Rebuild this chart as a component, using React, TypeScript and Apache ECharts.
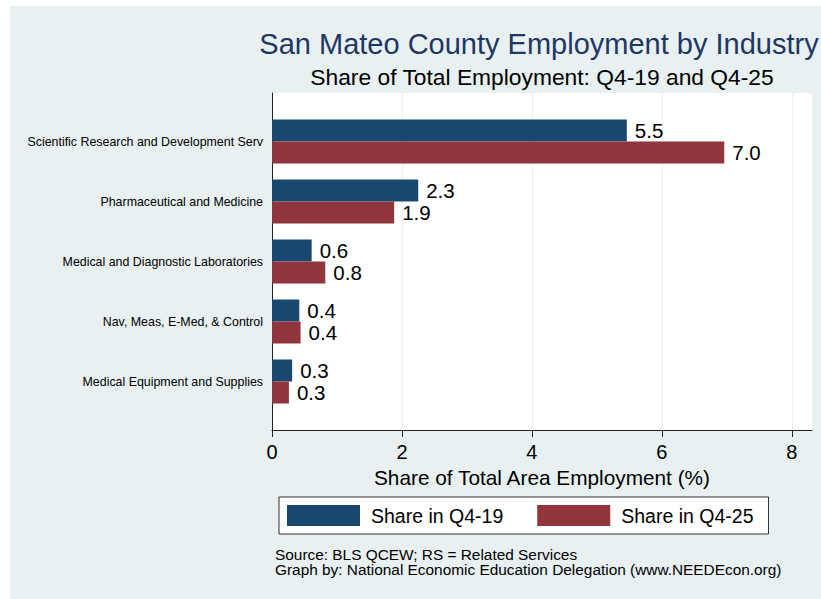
import React, { useEffect, useRef } from "react";
import * as echarts from "echarts";

const categories = [
  "Scientific Research and Development Serv",
  "Pharmaceutical and Medicine",
  "Medical and Diagnostic Laboratories",
  "Nav, Meas, E-Med, & Control",
  "Medical Equipment and Supplies",
];
const shareQ419 = [5.46, 2.25, 0.61, 0.42, 0.31];
const shareQ425 = [6.96, 1.88, 0.82, 0.44, 0.26];
const seriesNames = ["Share in Q4-19", "Share in Q4-25"];
const xTicks = [0, 2, 4, 6, 8];

const FONT = "'Liberation Sans', Arial, Helvetica, sans-serif";
const BLUE = "#1A476F";
const RED = "#90353B";
const XMAX = 8.31;

export default function App() {
  const ref = useRef<HTMLDivElement>(null);
  useEffect(() => {
    if (!ref.current) return;
    const chart = echarts.init(ref.current, undefined, { renderer: "svg" });
    const labelOpt = {
      show: true,
      position: "right" as const,
      distance: 8,
      fontSize: 20.5,
      color: "#000",
      fontFamily: FONT,
      formatter: (p: any) => Number(p.value).toFixed(1),
    };
    chart.setOption({
      animation: false,
      backgroundColor: "transparent",
      textStyle: { fontFamily: FONT },
      graphic: [
        {
          type: "text",
          x: 539,
          y: 44,
          style: {
            text: "San Mateo County Employment by Industry",
            align: "center",
            verticalAlign: "middle",
            fontSize: 29,
            fill: "#1E3764",
            fontFamily: FONT,
          },
        },
        {
          type: "text",
          x: 542,
          y: 77,
          style: {
            text: "Share of Total Employment: Q4-19 and Q4-25",
            align: "center",
            verticalAlign: "middle",
            fontSize: 22.8,
            fill: "#000",
            fontFamily: FONT,
          },
        },
        {
          type: "text",
          x: 275,
          y: 562,
          style: {
            text: "Source: BLS QCEW; RS = Related Services\nGraph by: National Economic Education Delegation (www.NEEDEcon.org)",
            align: "left",
            verticalAlign: "middle",
            fontSize: 15.4,
            lineHeight: 15.5,
            fill: "#000",
            fontFamily: FONT,
          },
        },
      ],
      legend: {
        data: seriesNames,
        left: 279,
        top: 497,
        orient: "horizontal",
        padding: [8, 15, 8, 8],
        itemGap: 34,
        itemWidth: 73,
        itemHeight: 21,
        icon: "rect",
        backgroundColor: "#fff",
        borderColor: "#333",
        borderWidth: 1,
        borderRadius: 0,
        selectedMode: false,
        textStyle: {
          fontSize: 19.5,
          color: "#000",
          fontFamily: FONT,
          padding: [0, 0, 0, 6],
          lineHeight: 21,
        },
      },
      grid: [
        {
          left: 272,
          right: 9,
          top: 93,
          bottom: 169,
          show: true,
          backgroundColor: "#fff",
          borderWidth: 0,
        },
        {
          left: 272,
          right: 9,
          top: 111.5,
          bottom: 187.5,
          show: false,
        },
      ],
      xAxis: [
        {
          gridIndex: 0,
          type: "value",
          min: 0,
          max: XMAX,
          interval: 2,
          name: "Share of Total Area Employment (%)",
          nameLocation: "middle",
          nameGap: 35,
          nameTextStyle: { fontSize: 20.8, color: "#000", fontFamily: FONT },
          axisLine: { show: true, lineStyle: { color: "#222", width: 1 } },
          axisTick: {
            show: true,
            length: 7,
            customValues: xTicks,
            lineStyle: { color: "#222", width: 1 },
          },
          axisLabel: {
            fontSize: 20,
            color: "#000",
            margin: 12,
            customValues: xTicks,
            fontFamily: FONT,
            formatter: (v: number) => (xTicks.includes(v) ? String(v) : ""),
          },
          splitLine: { show: true, lineStyle: { color: "#E6EEF1", width: 1 } },
        },
        {
          gridIndex: 1,
          type: "value",
          min: 0,
          max: XMAX,
          show: false,
        },
      ],
      yAxis: [
        {
          gridIndex: 0,
          type: "value",
          min: 0,
          max: 1,
          axisLine: { show: true, lineStyle: { color: "#222", width: 1 } },
          axisTick: { show: false },
          axisLabel: { show: false },
          splitLine: { show: false },
        },
        {
          gridIndex: 1,
          type: "category",
          data: categories,
          inverse: true,
          axisLine: { show: false },
          axisTick: { show: false },
          splitLine: { show: false },
          axisLabel: {
            fontSize: 12.4,
            color: "#000",
            margin: 9,
            fontFamily: FONT,
          },
        },
      ],
      series: [
        {
          name: seriesNames[0],
          type: "bar",
          xAxisIndex: 1,
          yAxisIndex: 1,
          data: shareQ419,
          barWidth: 22,
          barGap: "0%",
          itemStyle: { color: BLUE },
          label: labelOpt,
        },
        {
          name: seriesNames[1],
          type: "bar",
          xAxisIndex: 1,
          yAxisIndex: 1,
          data: shareQ425,
          barWidth: 22,
          barGap: "0%",
          itemStyle: { color: RED },
          label: labelOpt,
        },
      ],
    });
    return () => chart.dispose();
  }, []);

  return (
    <div
      style={{
        position: "fixed",
        left: 0,
        top: 0,
        width: 821,
        height: 599,
        background: "#fff",
        overflow: "hidden",
      }}
    >
      <div
        style={{
          position: "absolute",
          left: 10,
          top: 6,
          width: 811,
          height: 593,
          background: "#E8F0F2",
        }}
      />
      <div
        ref={ref}
        style={{ position: "absolute", left: 0, top: 0, width: 821, height: 599 }}
      />
    </div>
  );
}
